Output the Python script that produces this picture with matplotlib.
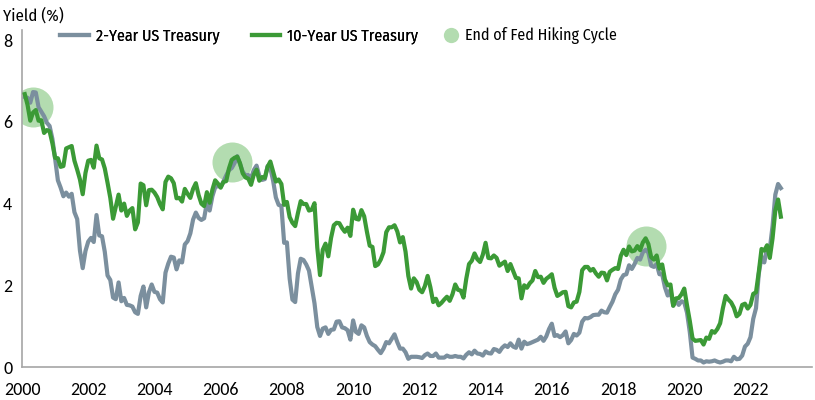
import numpy as np
import matplotlib.pyplot as plt
from matplotlib.lines import Line2D
from matplotlib import font_manager

# month-end yields, Jan 2000 .. Nov 2022
two_year = [
    6.61, 6.59, 6.47, 6.73, 6.72, 6.36, 6.25, 6.14, 5.98, 5.90, 5.59, 5.10,  # 2000
    4.57, 4.39, 4.18, 4.27, 4.17, 4.24, 3.79, 3.62, 2.85, 2.42, 2.84, 3.07,  # 2001
    3.16, 3.06, 3.72, 3.22, 3.20, 2.82, 2.24, 2.13, 1.70, 1.66, 2.07, 1.61,  # 2002
    1.69, 1.52, 1.51, 1.48, 1.34, 1.30, 1.74, 1.97, 1.46, 1.83, 2.02, 1.84,  # 2003
    1.82, 1.66, 1.58, 2.31, 2.53, 2.70, 2.68, 2.39, 2.61, 2.56, 3.00, 3.08,  # 2004
    3.27, 3.61, 3.78, 3.65, 3.60, 3.64, 4.02, 3.83, 4.18, 4.40, 4.43, 4.41,  # 2005
    4.54, 4.69, 4.82, 4.87, 4.99, 5.16, 4.97, 4.78, 4.69, 4.70, 4.62, 4.82,  # 2006
    4.93, 4.68, 4.58, 4.60, 4.92, 4.87, 4.56, 4.15, 3.97, 3.94, 3.04, 3.05,  # 2007
    2.16, 1.65, 1.59, 2.29, 2.65, 2.62, 2.51, 2.36, 1.96, 1.56, 0.98, 0.76,  # 2008
    0.94, 0.97, 0.81, 0.91, 0.92, 1.11, 1.12, 0.97, 0.95, 0.90, 0.67, 1.14,  # 2009
    0.86, 0.81, 1.02, 0.97, 0.76, 0.61, 0.55, 0.51, 0.42, 0.34, 0.45, 0.61,  # 2010
    0.58, 0.69, 0.80, 0.61, 0.45, 0.45, 0.36, 0.20, 0.25, 0.25, 0.25, 0.24,  # 2011
    0.22, 0.29, 0.33, 0.27, 0.27, 0.33, 0.23, 0.23, 0.23, 0.28, 0.25, 0.25,  # 2012
    0.27, 0.25, 0.25, 0.21, 0.30, 0.36, 0.31, 0.40, 0.33, 0.32, 0.28, 0.38,  # 2013
    0.34, 0.33, 0.44, 0.42, 0.37, 0.47, 0.53, 0.49, 0.58, 0.50, 0.47, 0.67,  # 2014
    0.45, 0.62, 0.56, 0.58, 0.61, 0.64, 0.67, 0.74, 0.64, 0.75, 0.93, 1.06,  # 2015
    0.76, 0.78, 0.73, 0.78, 0.87, 0.58, 0.66, 0.81, 0.77, 0.84, 1.11, 1.20,  # 2016
    1.19, 1.22, 1.27, 1.28, 1.28, 1.38, 1.34, 1.33, 1.47, 1.60, 1.78, 1.89,  # 2017
    2.14, 2.25, 2.27, 2.49, 2.40, 2.52, 2.67, 2.63, 2.81, 2.87, 2.80, 2.48,  # 2018
    2.45, 2.52, 2.27, 2.27, 1.95, 1.75, 1.89, 1.50, 1.63, 1.52, 1.61, 1.58,  # 2019
    1.33, 0.86, 0.23, 0.20, 0.16, 0.16, 0.11, 0.14, 0.13, 0.14, 0.16, 0.13,  # 2020
    0.11, 0.13, 0.16, 0.16, 0.14, 0.25, 0.19, 0.20, 0.28, 0.50, 0.57, 0.73,  # 2021
    1.18, 1.44, 2.28, 2.70, 2.56, 2.92, 2.89, 3.45, 4.22, 4.48, 4.38,        # 2022
]
ten_year = [
    6.68, 6.42, 6.03, 6.23, 6.29, 6.03, 6.04, 5.73, 5.80, 5.77, 5.48, 5.12,  # 2000
    5.11, 4.90, 4.92, 5.35, 5.38, 5.41, 5.05, 4.83, 4.59, 4.23, 4.75, 5.05,  # 2001
    5.07, 4.88, 5.42, 5.11, 5.08, 4.86, 4.51, 4.14, 3.63, 3.93, 4.22, 3.83,  # 2002
    4.00, 3.70, 3.83, 3.89, 3.37, 3.54, 4.49, 4.45, 3.96, 4.33, 4.34, 4.27,  # 2003
    4.16, 3.99, 3.86, 4.53, 4.66, 4.62, 4.50, 4.13, 4.14, 4.05, 4.36, 4.24,  # 2004
    4.14, 4.36, 4.50, 4.21, 4.00, 3.94, 4.28, 4.02, 4.34, 4.57, 4.49, 4.39,  # 2005
    4.53, 4.55, 4.86, 5.07, 5.12, 5.15, 4.99, 4.74, 4.64, 4.61, 4.46, 4.71,  # 2006
    4.83, 4.56, 4.65, 4.63, 4.90, 5.03, 4.78, 4.54, 4.59, 4.48, 3.97, 4.04,  # 2007
    3.67, 3.53, 3.45, 3.77, 4.06, 3.99, 3.99, 3.83, 3.85, 4.01, 2.93, 2.25,  # 2008
    2.87, 3.02, 2.71, 3.16, 3.47, 3.53, 3.52, 3.40, 3.31, 3.41, 3.21, 3.85,  # 2009
    3.63, 3.61, 3.84, 3.69, 3.31, 2.97, 2.94, 2.47, 2.51, 2.63, 2.81, 3.30,  # 2010
    3.42, 3.42, 3.47, 3.32, 3.05, 3.18, 2.82, 2.23, 1.92, 2.17, 2.08, 1.89,  # 2011
    1.83, 1.98, 2.23, 1.95, 1.59, 1.67, 1.51, 1.57, 1.65, 1.72, 1.62, 1.78,  # 2012
    2.02, 1.89, 1.87, 1.70, 2.16, 2.52, 2.60, 2.78, 2.64, 2.57, 2.75, 3.04,  # 2013
    2.67, 2.66, 2.73, 2.67, 2.48, 2.53, 2.58, 2.35, 2.52, 2.35, 2.18, 2.17,  # 2014
    1.68, 2.00, 1.94, 2.05, 2.12, 2.35, 2.20, 2.21, 2.06, 2.16, 2.21, 2.27,  # 2015
    1.94, 1.74, 1.78, 1.83, 1.84, 1.49, 1.46, 1.58, 1.60, 1.84, 2.37, 2.45,  # 2016
    2.45, 2.36, 2.40, 2.29, 2.21, 2.31, 2.30, 2.12, 2.33, 2.38, 2.42, 2.40,  # 2017
    2.72, 2.87, 2.74, 2.95, 2.83, 2.85, 2.96, 2.86, 3.05, 3.15, 3.01, 2.69,  # 2018
    2.63, 2.73, 2.41, 2.51, 2.14, 2.00, 2.02, 1.50, 1.68, 1.69, 1.78, 1.92,  # 2019
    1.51, 1.13, 0.70, 0.64, 0.65, 0.66, 0.55, 0.72, 0.69, 0.88, 0.84, 0.93,  # 2020
    1.07, 1.44, 1.74, 1.65, 1.58, 1.45, 1.24, 1.30, 1.52, 1.55, 1.43, 1.52,  # 2021
    1.79, 1.83, 2.32, 2.89, 2.85, 2.98, 2.67, 3.15, 3.83, 4.10, 3.68,        # 2022
]
# end of Fed hiking cycle markers (date, yield)
hike_end_dates = [2000.33, 2006.33, 2018.85]
hike_end_yields = [6.36, 5.01, 2.96]

dates = 2000 + (np.arange(len(two_year)) + 1) / 12.0

names = set(f.name for f in font_manager.fontManager.ttflist)


def pick(cands):
    for c in cands:
        if c in names:
            return c
    return 'DejaVu Sans'


family = pick(['Fira Sans Condensed', 'Roboto Condensed', 'Archivo Narrow', 'Liberation Sans Narrow'])
tick_family = pick(['Carlito', 'Fira Sans Condensed'])
plt.rcParams['font.family'] = [family, 'DejaVu Sans']

gray = '#7b8f9e'
green = '#3b9a36'
light = '#b3dcb0'
fs = 11.5

fig = plt.figure(figsize=(8.15, 4.0), dpi=100)
ax = fig.add_axes([0.027, 0.0825, 0.969, 0.8425])

ax.scatter(hike_end_dates, hike_end_yields, s=830, color=light, zorder=1, linewidths=0)
ax.plot(dates, two_year, color=gray, lw=3, zorder=2, solid_joinstyle='round')
ax.plot(dates, ten_year, color=green, lw=3, zorder=3, solid_joinstyle='round')

ax.set_xlim(2000, 2023.85)
ax.set_ylim(0, 8.25)
ax.set_xticks(range(2000, 2023, 2))
ax.set_yticks([0, 2, 4, 6, 8])
ax.tick_params(length=0, labelsize=13)
ax.tick_params(axis='x', pad=11)
ax.tick_params(axis='y', pad=7)
for lab in ax.get_xticklabels() + ax.get_yticklabels():
    lab.set_fontfamily([tick_family, 'DejaVu Sans'])
for s in ['top', 'right']:
    ax.spines[s].set_visible(False)
for s in ['left', 'bottom']:
    ax.spines[s].set_color('#a6a6a6')
    ax.spines[s].set_linewidth(1.2)

fig.text(0.004, 0.962, 'Yield (%)', fontsize=12, va='center', ha='left')

line_handles = [Line2D([], [], color=gray, lw=3), Line2D([], [], color=green, lw=3)]
leg1 = fig.legend(line_handles, ['2-Year US Treasury', '10-Year US Treasury'], ncol=2,
                  frameon=False, fontsize=fs, loc='center left',
                  bbox_to_anchor=(60 / 815, 0.91), borderpad=0, borderaxespad=0,
                  handlelength=1.8, handletextpad=0.45, columnspacing=2.0)
circle_handle = [Line2D([], [], marker='o', ls='none', markersize=11, color=light,
                        markeredgewidth=0)]
fig.legend(circle_handle, ['End of Fed Hiking Cycle'], frameon=False, fontsize=fs,
           loc='center left', bbox_to_anchor=(443 / 815, 0.91), borderpad=0,
           borderaxespad=0, handlelength=1.0, handletextpad=0.4)
fig.add_artist(leg1)

fig.savefig('out.png', dpi=100)
